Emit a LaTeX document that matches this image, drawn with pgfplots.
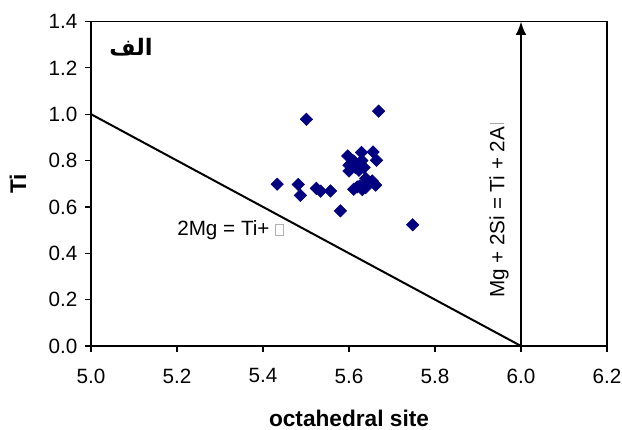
\documentclass[border=0pt]{standalone}
\usepackage{fontspec}
\setmainfont{Liberation Sans}
\newfontfamily\arabicfont[Script=Arabic]{DejaVu Sans}
\TeXXeTstate=1
\usepackage{pgfplots}
\pgfplotsset{compat=1.18}
\usetikzlibrary{arrows.meta}
\definecolor{navy}{RGB}{0,0,128}

\begin{document}
\begin{tikzpicture}
\useasboundingbox (-68.25pt,-62.25pt) rectangle (398.25pt,259.5pt);
\begin{axis}[
  at={(0,0)}, anchor=south west,
  scale only axis, width=387pt, height=243.4pt,
  xmin=5, xmax=6.2, ymin=0, ymax=1.4,
  xtick={5,5.2,5.4,5.6,5.8,6.0,6.2},
  ytick={0,0.2,0.4,0.6,0.8,1.0,1.2,1.4},
  xtick pos=left, ytick pos=left,
  tick align=outside, major tick length=4.5pt,
  tick style={black, line width=1pt},
  axis line style={black, line width=1.2pt},
  /pgf/number format/assume math mode=true,
  /pgf/number format/.cd, fixed, fixed zerofill, precision=1, /pgfplots/.cd,
  tick label style={font=\fontsize{15.5}{18}\selectfont},
  xticklabel style={yshift=-9pt},
  yticklabel style={xshift=-2.2pt},
  xlabel={\textbf{octahedral site}},
  ylabel={\textbf{Ti}},
  label style={font=\fontsize{17}{20}\selectfont},
  xlabel style={at={(axis description cs:0.5,-0.247)}, anchor=base},
  ylabel style={at={(axis description cs:-0.1415,0.5)}, anchor=center, rotate=0},
  clip=false,
]
\addplot[black, line width=1.5pt] coordinates {(5,1) (6,0)};
\addplot[black, line width=1.5pt, -{Latex[length=10pt,width=8pt]}] coordinates {(6,0) (6,1.4)};
\addplot[only marks, mark=square*, mark size=3.3pt, mark options={rotate=45, fill=navy, draw=navy}] coordinates {
(5.501,0.978) (5.669,1.013) (5.433,0.698) (5.482,0.697) (5.487,0.650)
(5.524,0.680) (5.534,0.668) (5.557,0.669) (5.580,0.583) (5.748,0.523)
(5.597,0.820) (5.629,0.835) (5.656,0.837) (5.664,0.801) (5.600,0.780)
(5.600,0.755) (5.619,0.780) (5.635,0.770) (5.623,0.758) (5.611,0.798)
(5.611,0.676) (5.631,0.675) (5.643,0.708) (5.654,0.712) (5.662,0.694)
(5.639,0.684) (5.619,0.686) (5.630,0.800) (5.639,0.723) (5.615,0.770)
(5.625,0.690)
};
\node[anchor=west, inner sep=0pt, font=\fontsize{15.5}{18}\selectfont] at (axis cs:5.2,0.5)
  {2Mg = Ti+ {\color{gray!60}\setlength{\fboxsep}{0pt}\setlength{\fboxrule}{0.5pt}\fbox{\rule{0pt}{8pt}\hspace{5.5pt}}}};
\node[rotate=90, inner sep=0pt, font=\fontsize{15.5}{18}\selectfont] at (axis cs:5.949,0.586)
  {Mg + 2Si = Ti + 2A\,{\color{gray!70}\rule{0.6pt}{11pt}}};
\node[inner sep=0pt, font=\arabicfont\bfseries\fontsize{17}{20}\selectfont] at (axis cs:5.093,1.289) {\beginR الف\endR};
\end{axis}
\end{tikzpicture}
\end{document}
